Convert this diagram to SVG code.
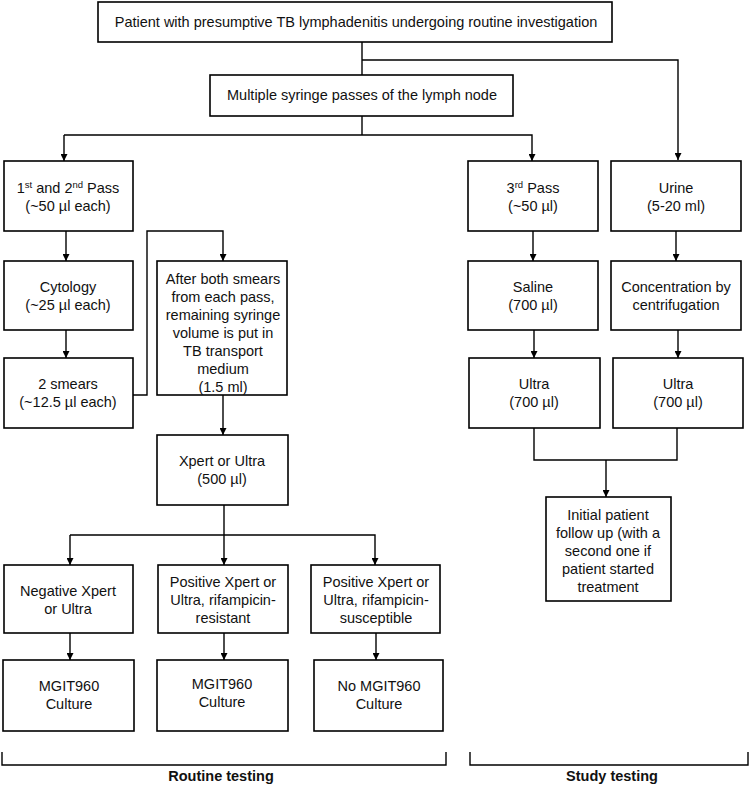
<svg xmlns="http://www.w3.org/2000/svg" width="750" height="785" viewBox="0 0 750 785">
<defs>
<marker id="ah" viewBox="0 0 10 10" refX="10" refY="5" markerWidth="7" markerHeight="7" markerUnits="userSpaceOnUse" orient="auto">
<path d="M0,0 L10,5 L0,10 z" fill="#000"/>
</marker>
<style>
.box{fill:#fff;stroke:#000;stroke-width:1.6}
.t{font-family:"Liberation Sans",Arial,sans-serif;font-size:14.5px;fill:#111;text-anchor:middle}
.s{font-size:9.5px}
.c{fill:none;stroke:#000;stroke-width:1.4}
.a{marker-end:url(#ah)}
.b{font-family:"Liberation Sans",Arial,sans-serif;font-size:14.5px;font-weight:bold;fill:#111;text-anchor:middle}
</style>
</defs>
<rect width="750" height="785" fill="#fff"/>
<g id="connectors">
<path class="c" d="M362,42 V75"/>
<path class="c a" d="M362,60 H678 V160"/>
<path class="c" d="M362,116 V135"/>
<path class="c a" d="M64,135 V161"/>
<path class="c a" d="M64,135 H532 V161"/>
<path class="c a" d="M66,231 V261"/>
<path class="c a" d="M66,330 V358"/>
<path class="c a" d="M133,395 H147 V231 H223 V261"/>
<path class="c a" d="M223,395 V435"/>
<path class="c" d="M224,505 V535"/>
<path class="c a" d="M70,535 V565"/>
<path class="c a" d="M224,535 V565"/>
<path class="c a" d="M70,535 H375 V565"/>
<path class="c a" d="M70,633 V660"/>
<path class="c a" d="M224,633 V660"/>
<path class="c a" d="M376,633 V660"/>
<path class="c a" d="M533,231 V261"/>
<path class="c a" d="M534,330 V358"/>
<path class="c a" d="M676,231 V261"/>
<path class="c a" d="M678,330 V358"/>
<path class="c" d="M534,428 V460 H677 V428"/>
<path class="c a" d="M606,460 V497"/>
<path class="c" d="M2,752 V765 H446 V752"/>
<path class="c" d="M470,752 V765 H748 V752"/>
</g>
<g id="n-top"><rect class="box" x="98" y="2" width="514" height="40"/><text class="t" x="356" y="27">Patient with presumptive TB lymphadenitis undergoing routine investigation</text></g>
<g id="n-multi"><rect class="box" x="210" y="75" width="303" height="41"/><text class="t" x="362" y="100">Multiple syringe passes of the lymph node</text></g>
<g id="n-pass12"><rect class="box" x="4" y="161" width="129" height="70"/><text class="t" x="68" y="193">1<tspan class="s" dy="-5">st</tspan><tspan dy="5"> and 2</tspan><tspan class="s" dy="-5">nd</tspan><tspan dy="5"> Pass</tspan></text><text class="t" x="68" y="211">(~50 µl each)</text></g>
<g id="n-cyto"><rect class="box" x="4" y="261" width="129" height="69"/><text class="t" x="68" y="292">Cytology</text><text class="t" x="68" y="310">(~25 µl each)</text></g>
<g id="n-smears"><rect class="box" x="4" y="358" width="129" height="70"/><text class="t" x="68" y="389">2  smears</text><text class="t" x="68" y="407">(~12.5 µl each)</text></g>
<g id="n-after"><rect class="box" x="157" y="261" width="130" height="134"/>
<text class="t" x="223" y="284">After both smears</text><text class="t" x="223" y="302">from each pass,</text><text class="t" x="223" y="320">remaining syringe</text><text class="t" x="223" y="338">volume is put in</text><text class="t" x="223" y="356">TB transport</text><text class="t" x="223" y="374">medium</text><text class="t" x="223" y="392">(1.5 ml)</text></g>
<g id="n-xpert"><rect class="box" x="157" y="435" width="131" height="70"/><text class="t" x="222" y="466">Xpert or Ultra</text><text class="t" x="222" y="484">(500 µl)</text></g>
<g id="n-neg"><rect class="box" x="4" y="565" width="129" height="68"/><text class="t" x="68" y="596">Negative Xpert</text><text class="t" x="68" y="614">or Ultra</text></g>
<g id="n-posr"><rect class="box" x="158" y="565" width="130" height="68"/><text class="t" x="223" y="587">Positive Xpert or</text><text class="t" x="223" y="605">Ultra, rifampicin-</text><text class="t" x="223" y="623">resistant</text></g>
<g id="n-poss"><rect class="box" x="311" y="565" width="129" height="68"/><text class="t" x="376" y="587">Positive Xpert or</text><text class="t" x="376" y="605">Ultra, rifampicin-</text><text class="t" x="376" y="623">susceptible</text></g>
<g id="n-mgit1"><rect class="box" x="3" y="660" width="131" height="71"/><text class="t" x="69" y="691">MGIT960</text><text class="t" x="69" y="709">Culture</text></g>
<g id="n-mgit2"><rect class="box" x="157" y="660" width="131" height="71"/><text class="t" x="222" y="689">MGIT960</text><text class="t" x="222" y="707">Culture</text></g>
<g id="n-mgit3"><rect class="box" x="314" y="660" width="129" height="71"/><text class="t" x="379" y="691">No MGIT960</text><text class="t" x="379" y="709">Culture</text></g>
<g id="n-pass3"><rect class="box" x="468" y="161" width="130" height="70"/><text class="t" x="533" y="193">3<tspan class="s" dy="-5">rd</tspan><tspan dy="5"> Pass</tspan></text><text class="t" x="533" y="211">(~50 µl)</text></g>
<g id="n-urine"><rect class="box" x="611" y="161" width="130" height="70"/><text class="t" x="676" y="193">Urine</text><text class="t" x="676" y="211">(5-20 ml)</text></g>
<g id="n-saline"><rect class="box" x="468" y="261" width="130" height="69"/><text class="t" x="533" y="292">Saline</text><text class="t" x="533" y="310">(700 µl)</text></g>
<g id="n-conc"><rect class="box" x="611" y="261" width="130" height="69"/><text class="t" x="676" y="292">Concentration by</text><text class="t" x="676" y="310">centrifugation</text></g>
<g id="n-ultra1"><rect class="box" x="469" y="358" width="131" height="70"/><text class="t" x="534" y="389">Ultra</text><text class="t" x="534" y="407">(700 µl)</text></g>
<g id="n-ultra2"><rect class="box" x="613" y="358" width="130" height="70"/><text class="t" x="678" y="389">Ultra</text><text class="t" x="678" y="407">(700 µl)</text></g>
<g id="n-follow"><rect class="box" x="546" y="497" width="125" height="104"/>
<text class="t" x="608" y="520">Initial patient</text><text class="t" x="608" y="538">follow up (with a</text><text class="t" x="608" y="556">second one if</text><text class="t" x="608" y="574">patient started</text><text class="t" x="608" y="592">treatment</text></g>
<g id="labels"><text class="b" x="221" y="781">Routine testing</text><text class="b" x="612" y="781">Study testing</text></g>
</svg>
